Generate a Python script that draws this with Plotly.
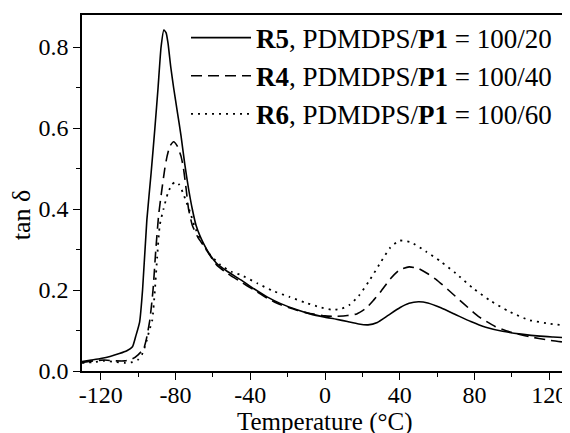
import plotly.graph_objects as go

# R5, PDMDPS/P1 = 100/20 (solid)
r5_t = [-130, -125, -120, -115, -110, -106, -103, -101.3, -99.2, -97.6, -95.3, -93, -91, -89.3, -87.7, -86.2,
        -85, -84, -82.5, -81, -79, -77, -75, -73, -71, -69, -67, -65, -62, -58, -52, -45, -38, -31, -24,
        -15, -8, 0, 6, 12, 18, 23, 28, 34, 40, 45, 50, 55, 62, 70, 78, 86, 95, 105, 115, 122, 130]
r5_v = [0.023, 0.027, 0.031, 0.036, 0.043, 0.05, 0.06, 0.085, 0.12, 0.20, 0.373, 0.49, 0.60, 0.70, 0.80, 0.842,
        0.835, 0.81, 0.75, 0.70, 0.64, 0.58, 0.51, 0.45, 0.40, 0.36, 0.335, 0.315, 0.29, 0.266, 0.245, 0.225, 0.203, 0.183, 0.167,
        0.151, 0.141, 0.133, 0.128, 0.122, 0.116, 0.114, 0.12, 0.138, 0.156, 0.167, 0.171, 0.168, 0.156, 0.139, 0.122, 0.108, 0.098, 0.091, 0.086, 0.084, 0.082]

# R4, PDMDPS/P1 = 100/40 (dashed)
r4_t = [-130, -124, -118, -112, -107, -103, -100, -97, -95.5, -93.7, -92, -90.5, -89, -87.5, -85.7, -84.5, -83, -81,
        -79, -77, -75.7, -74.3, -73, -71, -68, -65, -58, -52, -45, -38, -31, -24, -15, -8, 0, 6, 12, 17, 22, 26, 30,
        35, 40, 45, 50, 55, 60, 66, 74, 82, 91, 100, 109, 120, 130]
r4_v = [0.021, 0.025, 0.027, 0.025, 0.025, 0.03, 0.04, 0.055, 0.08, 0.126, 0.2, 0.3, 0.385, 0.44, 0.50, 0.53, 0.555, 0.566,
        0.555, 0.53, 0.50, 0.45, 0.40, 0.36, 0.33, 0.31, 0.262, 0.24, 0.22, 0.2, 0.18, 0.164, 0.15, 0.142, 0.136, 0.135, 0.137, 0.141, 0.155, 0.175, 0.197,
        0.228, 0.25, 0.257, 0.253, 0.24, 0.224, 0.2, 0.167, 0.135, 0.11, 0.095, 0.085, 0.076, 0.07]

# R6, PDMDPS/P1 = 100/60 (dotted)
r6_t = [-130, -124, -118, -112, -107, -103, -100, -98, -96, -94, -92.4, -91, -89.8, -88.4, -86.4, -84, -82, -80,
        -78, -76, -74, -72, -70, -67, -62, -56, -50, -45, -36, -28, -19, -10, -3, 4, 9, 13, 18, 24, 30, 35, 40, 46,
        54, 62, 70, 79, 88, 98, 109, 120, 130]
r6_v = [0.02, 0.022, 0.025, 0.022, 0.02, 0.022, 0.028, 0.04, 0.065, 0.1, 0.126, 0.2, 0.28, 0.36, 0.40, 0.44, 0.46, 0.467,
        0.46, 0.44, 0.415, 0.39, 0.36, 0.328, 0.29, 0.262, 0.245, 0.237, 0.216, 0.198, 0.183, 0.168, 0.158, 0.151, 0.154, 0.163, 0.185, 0.225, 0.27, 0.305, 0.322, 0.318,
        0.295, 0.27, 0.241, 0.205, 0.175, 0.148, 0.126, 0.117, 0.111]

x_tick_vals = [-120, -80, -40, 0, 40, 80, 120]
x_tick_text = ["-120", "-80", "-40", "0", "40", "80", "120"]
y_tick_vals = [0.0, 0.2, 0.4, 0.6, 0.8]
y_tick_text = ["0.0", "0.2", "0.4", "0.6", "0.8"]

names = ["<b>R5</b>, PDMDPS/<b>P1</b> = 100/20",
         "<b>R4</b>, PDMDPS/<b>P1</b> = 100/40",
         "<b>R6</b>, PDMDPS/<b>P1</b> = 100/60"]
x_title = "Temperature (°C)"
y_title = "tan δ"

FONT = "Liberation Serif"

fig = go.Figure()
fig.add_trace(go.Scatter(x=r5_t, y=r5_v, mode="lines", name=names[0],
                         line=dict(color="black", width=1.6, dash="solid", shape="spline", smoothing=0.5)))
fig.add_trace(go.Scatter(x=r4_t, y=r4_v, mode="lines", name=names[1],
                         line=dict(color="black", width=1.6, dash="11px,6px", shape="spline", smoothing=0.5)))
fig.add_trace(go.Scatter(x=r6_t, y=r6_v, mode="lines", name=names[2],
                         line=dict(color="black", width=1.8, dash="2px,5px", shape="spline", smoothing=0.5)))

# the page body has an 8px margin, so the figure is 8px smaller and the left/top margins shifted accordingly
fig.update_layout(
    width=562, height=425, autosize=False,
    margin=dict(l=74, r=2, t=7, b=62, pad=0, autoexpand=False),
    paper_bgcolor="white", plot_bgcolor="white",
    font=dict(family=FONT, size=24, color="black"),
    showlegend=True,
    legend=dict(x=0.214, y=1.004, xanchor="left", yanchor="top", bgcolor="rgba(0,0,0,0)",
                font=dict(family=FONT, size=27, color="black"), tracegroupgap=0, itemwidth=60),
    xaxis=dict(range=[-130, 130], tickmode="array", tickvals=x_tick_vals, ticktext=x_tick_text,
               ticks="outside", ticklen=7, tickwidth=1.3, tickcolor="black", automargin=False,
               ticklabelstandoff=-6,
               showline=True, linecolor="black", linewidth=1.5, mirror=True, showgrid=False, zeroline=False,
               minor=dict(dtick=20, tick0=0, ticks="outside", ticklen=4, tickwidth=1.2, tickcolor="black")),
    yaxis=dict(range=[0, 0.879], tickmode="array", tickvals=y_tick_vals, ticktext=y_tick_text,
               ticks="outside", ticklen=7, tickwidth=1.3, tickcolor="black", automargin=False,
               showline=True, linecolor="black", linewidth=1.5, mirror=True, showgrid=False, zeroline=False,
               minor=dict(dtick=0.1, tick0=0, ticks="outside", ticklen=4, tickwidth=1.2, tickcolor="black")),
    annotations=[
        dict(text=y_title, xref="paper", yref="paper", x=-0.125, y=0.438, textangle=-90,
             showarrow=False, font=dict(family=FONT, size=26, color="black"),
             xanchor="center", yanchor="middle"),
        dict(text=x_title, xref="paper", yref="paper", x=0.5, y=-0.142,
             showarrow=False, font=dict(family=FONT, size=25, color="black"),
             xanchor="center", yanchor="middle"),
    ],
)

fig.write_html("out.html")
